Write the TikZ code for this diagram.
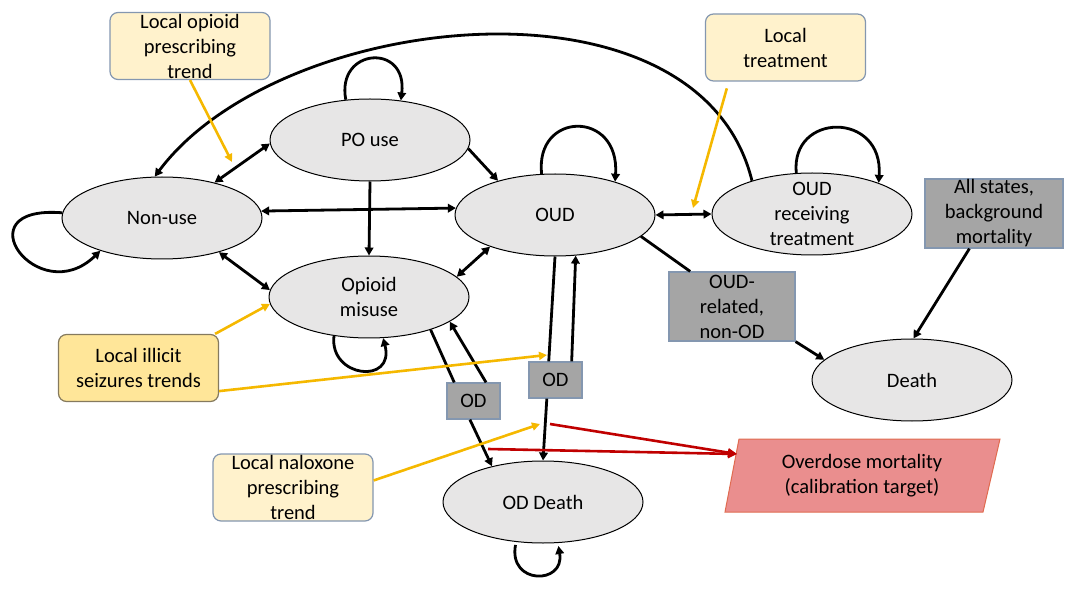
\documentclass[tikz,border=0pt]{standalone}
\usepackage{fontspec}
\setmainfont{Carlito}
\usetikzlibrary{arrows.meta,shapes.geometric}
\definecolor{ellfill}{HTML}{E7E6E6}
\definecolor{paley}{HTML}{FFF2CC}
\definecolor{midy}{HTML}{FFE699}
\definecolor{bluegray}{HTML}{8497B0}
\definecolor{brownb}{HTML}{857A5E}
\definecolor{boxgray}{HTML}{A5A5A5}
\definecolor{gold}{HTML}{F5B800}
\definecolor{darkred}{HTML}{C00000}
\definecolor{pinkred}{HTML}{EA8E8E}
\definecolor{orangeb}{HTML}{E06B50}
\begin{document}
\begin{tikzpicture}[x=1pt,y=-1pt,
  font=\fontsize{20.5}{25}\selectfont,
  state/.style={draw, line width=1pt, fill=ellfill, ellipse, minimum width=200pt, minimum height=82pt, inner sep=0pt, align=center},
  infobox/.style={draw=bluegray, line width=1.2pt, fill=paley, rounded corners=8pt, minimum width=160pt, minimum height=67pt, inner sep=0pt, align=center},
  graybox/.style={draw=bluegray, line width=1.2pt, fill=boxgray, inner sep=0pt, align=center},
  conn/.style={line width=2.8pt, -{Triangle[length=8pt,width=8.5pt]}},
  both/.style={line width=2.8pt, {Triangle[length=8pt,width=8.5pt]}-{Triangle[length=8pt,width=8.5pt]}},
  plain/.style={line width=2.8pt},
  ylw/.style={gold, line width=2.6pt, -{Triangle[length=8pt,width=8pt]}},
  rd/.style={darkred, line width=2.6pt, -{Triangle[length=9pt,width=8.5pt]}}
]
\useasboundingbox (0,0) rectangle (1089,593);

% states
\node[state] (nonuse) at (162,218) {Non-use};
\node[state] (pouse) at (370,140) {PO use};
\node[state] (misuse) at (369,297) {Opioid\\misuse};
\node[state] (oud) at (555,215) {OUD};
\node[state, label={[align=center]center:OUD\\receiving\\treatment}] (oudt) at (812,214) {};
\node[state] (death) at (912,380) {Death};
\node[state] (oddeath) at (543,502) {OD Death};

% info boxes
\node[infobox] (lopt) at (190,46) {Local opioid\\prescribing\\trend};
\node[infobox] (ltreat) at (785.5,47.5) {Local\\treatment};
\node[infobox, fill=midy, draw=brownb] (lillicit) at (138.5,368) {Local illicit\\seizures trends};
\node[infobox] (lnalox) at (293,487.5) {Local naloxone\\prescribing\\trend};

% gray boxes
\node[graybox, minimum width=138pt, minimum height=69pt] (allst) at (994,213.5) {All states,\\background\\mortality};
\node[graybox, minimum width=126pt, minimum height=69pt] (nonod) at (732,306.5) {OUD-\\related,\\non-OD};
\node[graybox, minimum width=53pt, minimum height=36pt] (odl) at (473.5,401) {OD};
\node[graybox, minimum width=53pt, minimum height=36pt] (odr) at (555.5,380) {OD};

% calibration target
\filldraw[fill=pinkred, draw=orangeb, line width=1pt] (739,439) -- (1000,439) -- (983,512) -- (725,512) -- cycle;
\node[align=center] (odm) at (862,476) {Overdose mortality\\(calibration target)};
\coordinate (odmin) at (737,454);

% connectors between states
\draw[both] (nonuse.34) -- (pouse.182);
\draw[both] (nonuse.4) -- (oud.176);
\draw[both] (nonuse.-31) -- (misuse.176);
\draw[conn] (pouse.south) -- (misuse.north);
\draw[conn] (pouse.-5) -- (oud.149);
\draw[both] (misuse.13) -- (oud.206);
\draw[both] (oud.east) -- (oudt.west);
\draw[plain] (oud.-14) -- (nonod.140);
\draw[conn] (nonod.south east) -- (death.167);
\draw[conn] (allst.235) -- (death.88);
\draw[plain] (oud.south) -- (odr.110);
\draw[conn] (odr.245) -- (oddeath.north);
\draw[conn] (odr.49) -- (oud.-63);
\draw[plain] (misuse.-28) -- (odl.136);
\draw[conn] (odl.259) -- (oddeath.145);
\draw[conn] (odl.56) -- (misuse.-17);

% self loops
\draw[conn] (nonuse.177) .. controls +(-102,-8) and +(-62,60) .. (nonuse.208);
\draw[conn] (pouse.121) .. controls +(-10,-52) and +(7,-58) .. (pouse.52);
\draw[conn] (oud.108) .. controls +(-7,-63) and +(5,-72) .. (oud.29);
\draw[conn] (oudt.111) .. controls +(-6,-61) and +(5,-72) .. (oudt.25);
\draw[conn] (misuse.228) .. controls +(-5,42) and +(12,47) .. (misuse.-71);
\draw[conn, shorten <=3pt, shorten >=3pt] (oddeath.236) .. controls +(-8,43) and +(7,42) .. (oddeath.-70);

% long arc back to non-use
\draw[conn] (oudt.151) .. controls +(-53,-216) and +(125,-167) .. (nonuse.100);

% yellow influence arrows
\coordinate (y1) at (232,162);
\coordinate (y2) at (693,208);
\coordinate (y3) at (547,355);
\coordinate (y4) at (540,424);
\draw[ylw] (lopt.south) -- (y1);
\draw[ylw, shorten <=7pt] (ltreat.211.6) -- (y2);
\draw[ylw] (lillicit.24) -- (misuse.184);
\draw[ylw] (lillicit.-16.6) -- (y3);
\draw[ylw] (lnalox.5.2) -- (y4);

% red arrows to calibration target
\coordinate (r1) at (550,424);
\coordinate (r2) at (488,449);
\draw[rd] (r1) -- (odmin);
\draw[rd] (r2) -- (odmin);
\end{tikzpicture}
\end{document}
